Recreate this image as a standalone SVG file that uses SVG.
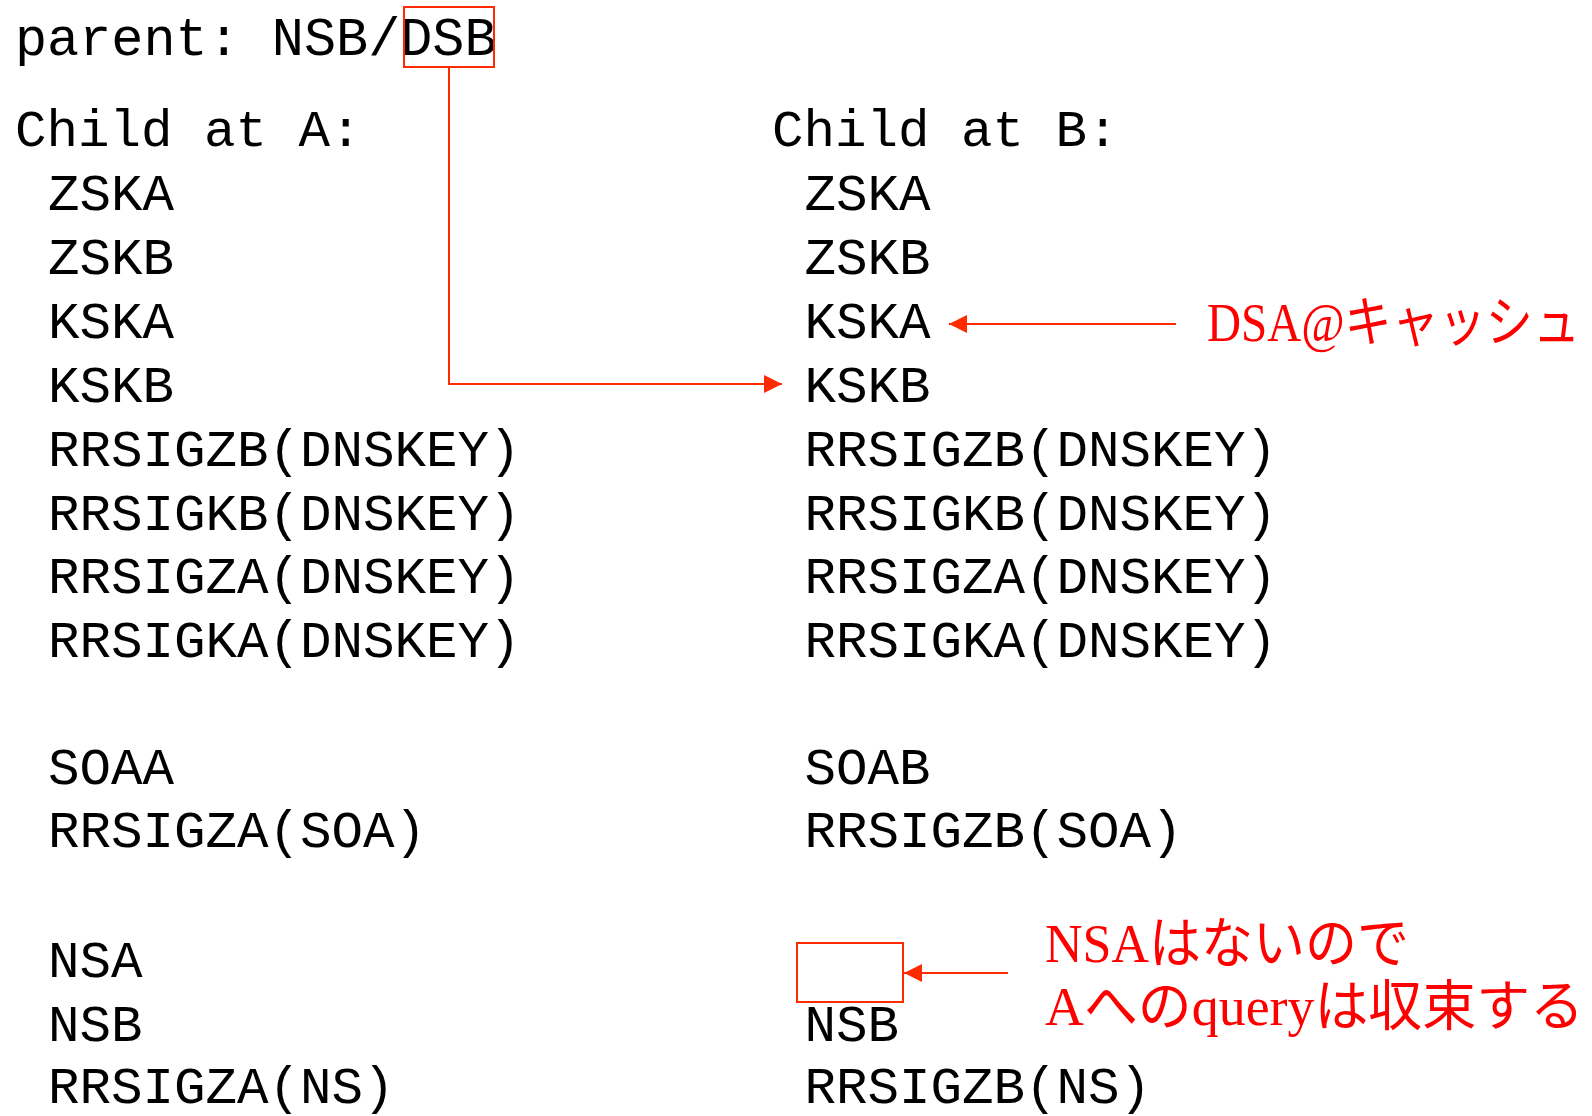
<svg xmlns="http://www.w3.org/2000/svg" width="1592" height="1116" viewBox="0 0 1592 1116">
  <style>
    .mono { font-family: "Liberation Mono", "Courier New", monospace; font-size: 52.5px; fill: #000; }
    .note { font-family: "Liberation Serif", "Noto Sans CJK JP", serif; font-size: 55px; fill: #ff0000; }
    .hl { fill: none; stroke: #ff2a00; stroke-width: 2; }
    .conn { fill: none; stroke: #ff2a00; stroke-width: 2; }
  </style>
  <defs>
    <marker id="arrow" markerUnits="userSpaceOnUse" markerWidth="18" markerHeight="18" viewBox="0 0 16 16" refX="16" refY="8" orient="auto">
      <path d="M0,0 L16,8 L0,16 Z" fill="#ff2a00"/>
    </marker>
  </defs>
  <rect width="1592" height="1116" fill="#fff"/>

  <!-- parent zone records, DS highlighted -->
  <g id="parent">
    <text class="mono" x="15" y="55" style="font-size:53.5px">parent: NSB/DSB</text>
    <rect class="hl" x="404" y="7" width="90" height="60"/>
  </g>

  <!-- child zone as served at A -->
  <g id="child-a" class="mono">
    <text x="15" y="146">Child at A:</text>
    <text x="48" y="210">ZSKA</text>
    <text x="48" y="274">ZSKB</text>
    <text x="48" y="338">KSKA</text>
    <text x="48" y="402">KSKB</text>
    <text x="48" y="466">RRSIGZB(DNSKEY)</text>
    <text x="48" y="529.5">RRSIGKB(DNSKEY)</text>
    <text x="48" y="593">RRSIGZA(DNSKEY)</text>
    <text x="48" y="656.5">RRSIGKA(DNSKEY)</text>
    <text x="48" y="783.5">SOAA</text>
    <text x="48" y="847">RRSIGZA(SOA)</text>
    <text x="48" y="977">NSA</text>
    <text x="48" y="1041">NSB</text>
    <text x="48" y="1103">RRSIGZA(NS)</text>
  </g>

  <!-- child zone as served at B -->
  <g id="child-b" class="mono">
    <text x="772" y="146">Child at B:</text>
    <text x="804.5" y="210">ZSKA</text>
    <text x="804.5" y="274">ZSKB</text>
    <text x="804.5" y="338">KSKA</text>
    <text x="804.5" y="402">KSKB</text>
    <text x="804.5" y="466">RRSIGZB(DNSKEY)</text>
    <text x="804.5" y="529.5">RRSIGKB(DNSKEY)</text>
    <text x="804.5" y="593">RRSIGZA(DNSKEY)</text>
    <text x="804.5" y="656.5">RRSIGKA(DNSKEY)</text>
    <text x="804.5" y="783.5">SOAB</text>
    <text x="804.5" y="847">RRSIGZB(SOA)</text>
    <text x="804.5" y="1041">NSB</text>
    <text x="804.5" y="1103">RRSIGZB(NS)</text>
  </g>

  <!-- missing NS record slot at B -->
  <g id="missing-ns">
    <rect class="hl" x="797" y="943" width="106" height="59"/>
  </g>

  <!-- annotations, set in a condensed face -->
  <g id="note-dsa">
    <text class="note" transform="translate(1207,341) scale(0.86,1)" textLength="433.7" lengthAdjust="spacingAndGlyphs">DSA@キャッシュ</text>
  </g>
  <g id="note-nsa">
    <text class="note" transform="translate(1045,962) scale(0.94,1)" textLength="387.2" lengthAdjust="spacingAndGlyphs">NSAはないので</text>
    <text class="note" transform="translate(1045,1025) scale(0.98,1)" textLength="550" lengthAdjust="spacingAndGlyphs">Aへのqueryは収束する</text>
  </g>

  <!-- connectors -->
  <g id="connectors">
    <path class="conn" d="M449,67 V384 H782" marker-end="url(#arrow)"/>
    <path class="conn" d="M1176,324 H949" marker-end="url(#arrow)"/>
    <path class="conn" d="M1008,973 H904" marker-end="url(#arrow)"/>
  </g>
</svg>
